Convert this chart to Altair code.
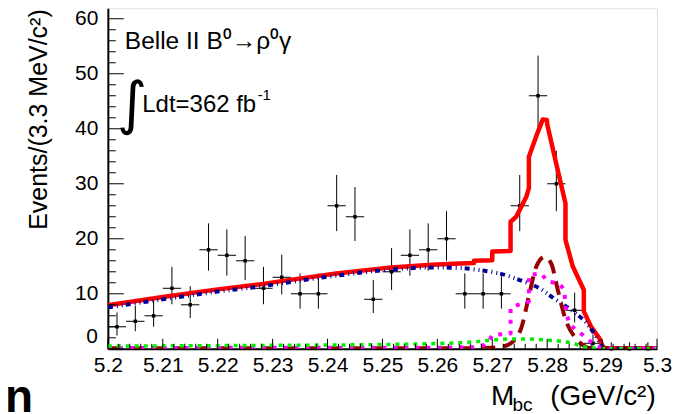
import altair as alt
import pandas as pd

# ---------------- data ----------------
bin_edges = [5.2000, 5.20333, 5.20667, 5.2100, 5.21333, 5.21667, 5.2200, 5.22333, 5.22667, 5.2300,
             5.23333, 5.23667, 5.2400, 5.24333, 5.24667, 5.2500, 5.25333, 5.25667, 5.2600, 5.26333,
             5.26667, 5.2700, 5.27333, 5.27667, 5.2800, 5.28333, 5.28667, 5.2900, 5.29333, 5.29667,
             5.3000]
counts = [4, 5, 6, 11, 8, 18, 17, 16, 11, 13, 10, 10, 26, 24, 9, 14,
          17, 18, 20, 10, 10, 10, 26, 46, 30, 7, 1, 0, 0, 0]
err_lo = [2.4, 3.2, 4.0, 8.1, 5.6, 14.2, 13.3, 12.5, 8.1, 9.9, 7.3, 7.3, 21.4, 19.6, 6.5, 10.7,
          13.3, 14.2, 16.0, 7.3, 7.3, 7.3, 21.4, 39.7, 25.0, 4.8, 0.4, 0.0, 0.0, 0.0]
err_hi = [6.6, 7.8, 9.0, 14.9, 11.4, 22.8, 21.7, 20.5, 14.9, 17.1, 13.7, 13.7, 31.6, 29.4, 12.5, 18.3,
          21.7, 22.8, 25.0, 13.7, 13.7, 13.7, 31.6, 53.3, 36.0, 10.2, 2.6, 1.2, 1.2, 1.2]

# total fit (red solid)
tot_m = [5.200, 5.210, 5.220, 5.2283, 5.2316, 5.2416, 5.2516, 5.2590, 5.26405, 5.26667,
         5.26667, 5.2700, 5.2700, 5.27333, 5.27333, 5.27436, 5.27618, 5.27667, 5.27667, 5.27829,
         5.2792, 5.27995, 5.2800, 5.28164, 5.28333, 5.28333, 5.28465, 5.28667, 5.28667, 5.2880,
         5.28951, 5.29011, 5.2906, 5.300]
tot_v = [7.9, 9.4, 10.8, 11.8, 12.3, 13.7, 14.8, 15.3, 15.5, 15.6,
         16.0, 16.1, 17.7, 17.8, 23.1, 24.0, 27.6, 29.2, 34.9, 39.4,
         41.7, 41.6, 40.8, 33.7, 26.4, 19.8, 15.0, 10.7, 6.8, 4.0,
         1.9, 0.4, 0.1, 0.1]

# continuum background (blue dash-dot)
bkg_m = [5.200, 5.210, 5.220, 5.2283, 5.2316, 5.2416, 5.2516, 5.2590, 5.2641, 5.2677,
         5.2713, 5.2750, 5.2786, 5.2816, 5.2847, 5.2874, 5.2895, 5.2901, 5.2906, 5.300]
bkg_v = [7.5, 9.0, 10.4, 11.4, 11.9, 13.3, 14.4, 14.8, 14.7, 14.3,
         13.7, 12.5, 11.0, 8.9, 6.8, 4.4, 1.3, 0.4, 0.05, 0.05]

# signal (dark red dashed)
sig_m = [5.200, 5.265, 5.2700, 5.27193, 5.27375, 5.27527, 5.27678, 5.2780, 5.2795, 5.28073,
         5.28193, 5.28345, 5.28496, 5.28647, 5.28738, 5.2895, 5.300]
sig_v = [0.1, 0.1, 0.2, 0.4, 1.3, 3.75, 10.1, 14.9, 16.7, 15.5,
         10.7, 5.0, 2.2, 0.7, 0.2, 0.1, 0.1]

# peaking background (magenta dotted)
pk_m = [5.200, 5.2600, 5.26667, 5.2685, 5.2695, 5.2700, 5.27333, 5.27333, 5.2750, 5.27667,
        5.27667, 5.2789, 5.2801, 5.2822, 5.2831, 5.28345, 5.2841, 5.28647, 5.2883, 5.2895,
        5.2905, 5.300]
pk_v = [0.15, 0.2, 0.3, 0.7, 1.6, 2.5, 2.8, 7.5, 8.1, 8.6,
        13.4, 13.7, 12.2, 11.9, 10.7, 6.5, 4.4, 2.5, 1.0, 0.3,
        0.1, 0.1]

# other B background (green dotted)
gb_m = [5.200, 5.225, 5.2513, 5.2641, 5.2677, 5.2701, 5.2732, 5.2762, 5.2798, 5.2822,
        5.2847, 5.2865, 5.2883, 5.2905, 5.300]
gb_v = [0.5, 0.6, 0.8, 1.1, 1.35, 1.6, 1.8, 1.8, 1.6, 1.4,
        1.0, 0.4, 0.15, 0.05, 0.05]

x_labels = [5.2, 5.21, 5.22, 5.23, 5.24, 5.25, 5.26, 5.27, 5.28, 5.29, 5.3]
y_labels = [0, 10, 20, 30, 40, 50, 60]
y_minor = [v for v in range(0, 62, 2) if v % 10]
x_minor = [round(5.2 + 0.002 * k, 3) for k in range(51) if k % 5]

# ---------------- chart ----------------
W, H = 550, 341
FONT = "Liberation Sans"
xs = alt.Scale(domain=[5.2, 5.3], nice=False, zero=False)
ys = alt.Scale(domain=[0, 61.9], nice=False, zero=False)

xaxis = alt.Axis(values=x_labels, labelExpr="format(datum.value, '.2~f')", ticks=False,
                 tickSize=0, grid=False, domainColor="black", domainWidth=2,
                 labelFont=FONT, labelFontSize=21, labelColor="black", labelPadding=6,
                 labelFlush=False, labelOverlap=False, title=None)
yaxis = alt.Axis(values=y_labels, labelExpr="datum.value == 0 ? '' : datum.label", ticks=False,
                 tickSize=0, grid=False, domainColor="black", domainWidth=2,
                 labelFont=FONT, labelFontSize=21, labelColor="black", labelPadding=10,
                 labelFlush=False, labelOverlap=False, title=None)


def X(f):
    return alt.X(f, type="quantitative", scale=xs, axis=xaxis)


def Y(f):
    return alt.Y(f, type="quantitative", scale=ys, axis=yaxis)


bins = pd.DataFrame({
    "lo_e": bin_edges[:-1],
    "hi_e": bin_edges[1:],
    "n": counts,
    "elo": err_lo,
    "ehi": err_hi,
})
bins["c"] = (bins["lo_e"] + bins["hi_e"]) / 2

vbar = alt.Chart(bins).mark_rule(color="black", strokeWidth=1).encode(
    x=X("c"), y=Y("elo"), y2="ehi")
hbar = alt.Chart(bins).mark_rule(color="black", strokeWidth=1).encode(
    x=X("lo_e"), x2="hi_e", y=Y("n"))
mark = alt.Chart(bins).mark_square(size=12, color="black", opacity=1).encode(
    x=X("c"), y=Y("n"))


def curve(ms, vs, color, width, dash=None, interp="linear"):
    df = pd.DataFrame({"m": ms, "v": vs, "o": list(range(len(ms)))})
    kw = dict(color=color, strokeWidth=width, interpolate=interp, clip=True,
              strokeCap="butt", strokeJoin="round")
    if dash:
        kw["strokeDash"] = dash
    return alt.Chart(df).mark_line(**kw).encode(x=X("m"), y=Y("v"), order="o:Q")


red = curve(tot_m, tot_v, "#ff0000", 4.5)
blue = curve(bkg_m, bkg_v, "#000099", 4, [5, 4, 1, 4, 1, 3], "monotone")
dred = curve(sig_m, sig_v, "#990000", 4, [14, 8], "monotone")
mag = curve(pk_m, pk_v, "#ff00ff", 4, [4, 7])
grn = curve(gb_m, gb_v, "#00ee00", 3.5, [4, 5], "monotone")

ymaj = alt.Chart(pd.DataFrame({"v": y_labels})).mark_rule(color="black", strokeWidth=1).encode(
    y=Y("v"), x=alt.value(0), x2=alt.value(16))
ymin = alt.Chart(pd.DataFrame({"v": y_minor})).mark_rule(color="black", strokeWidth=1).encode(
    y=Y("v"), x=alt.value(0), x2=alt.value(8))
xmaj = alt.Chart(pd.DataFrame({"v": x_labels})).mark_rule(color="black", strokeWidth=1).encode(
    x=X("v"), y=alt.value(H), y2=alt.value(H - 10))
xmin = alt.Chart(pd.DataFrame({"v": x_minor})).mark_rule(color="black", strokeWidth=1).encode(
    x=X("v"), y=alt.value(H), y2=alt.value(H - 5))

zero_lab = alt.Chart(pd.DataFrame({"v": [0], "t": ["0"]})).mark_text(
    font=FONT, fontSize=21, align="right", baseline="middle", dy=-12, color="black").encode(
    y=Y("v"), x=alt.value(-10), text="t:N")


def txt(t, x, y, size, align="left", weight="normal", font=FONT, angle=0, baseline="alphabetic"):
    return alt.Chart(pd.DataFrame({"t": [t]})).mark_text(
        font=font, fontSize=size, align=align, baseline=baseline, fontWeight=weight,
        angle=angle, color="black").encode(x=alt.value(x), y=alt.value(y), text="t:N")


texts = [
    txt("Belle II B⁰→ρ⁰γ", 17, 40.3, 24.5),
    txt("∫", 9, 114.4, 58, font="DejaVu Sans"),
    txt("Ldt=362 fb", 34.5, 103.7, 24),
    txt("-1", 150, 92, 15),
    txt("Events/(3.3 MeV/c²)", -61, 1, 25, align="right", angle=270),
    txt("M", 383.7, 397, 28),
    txt("bc", 405.3, 403, 19),
    txt("(GeV/c²)", 548.7, 397, 28, align="right"),
    txt("n", -103, 404, 46, weight="bold"),
]

chart = alt.layer(
    vbar, hbar, mark, red, blue, dred, mag, grn, ymaj, ymin, xmaj, xmin, zero_lab, *texts
).properties(
    width=W, height=H,
    padding={"left": 100, "top": 0, "right": 20, "bottom": 65},
    autosize=alt.AutoSizeParams(type="none"),
).configure_view(stroke="#222222", strokeWidth=1.2).configure(background="white")

chart.save("out.html", embed_options={"renderer": "svg", "actions": False})
